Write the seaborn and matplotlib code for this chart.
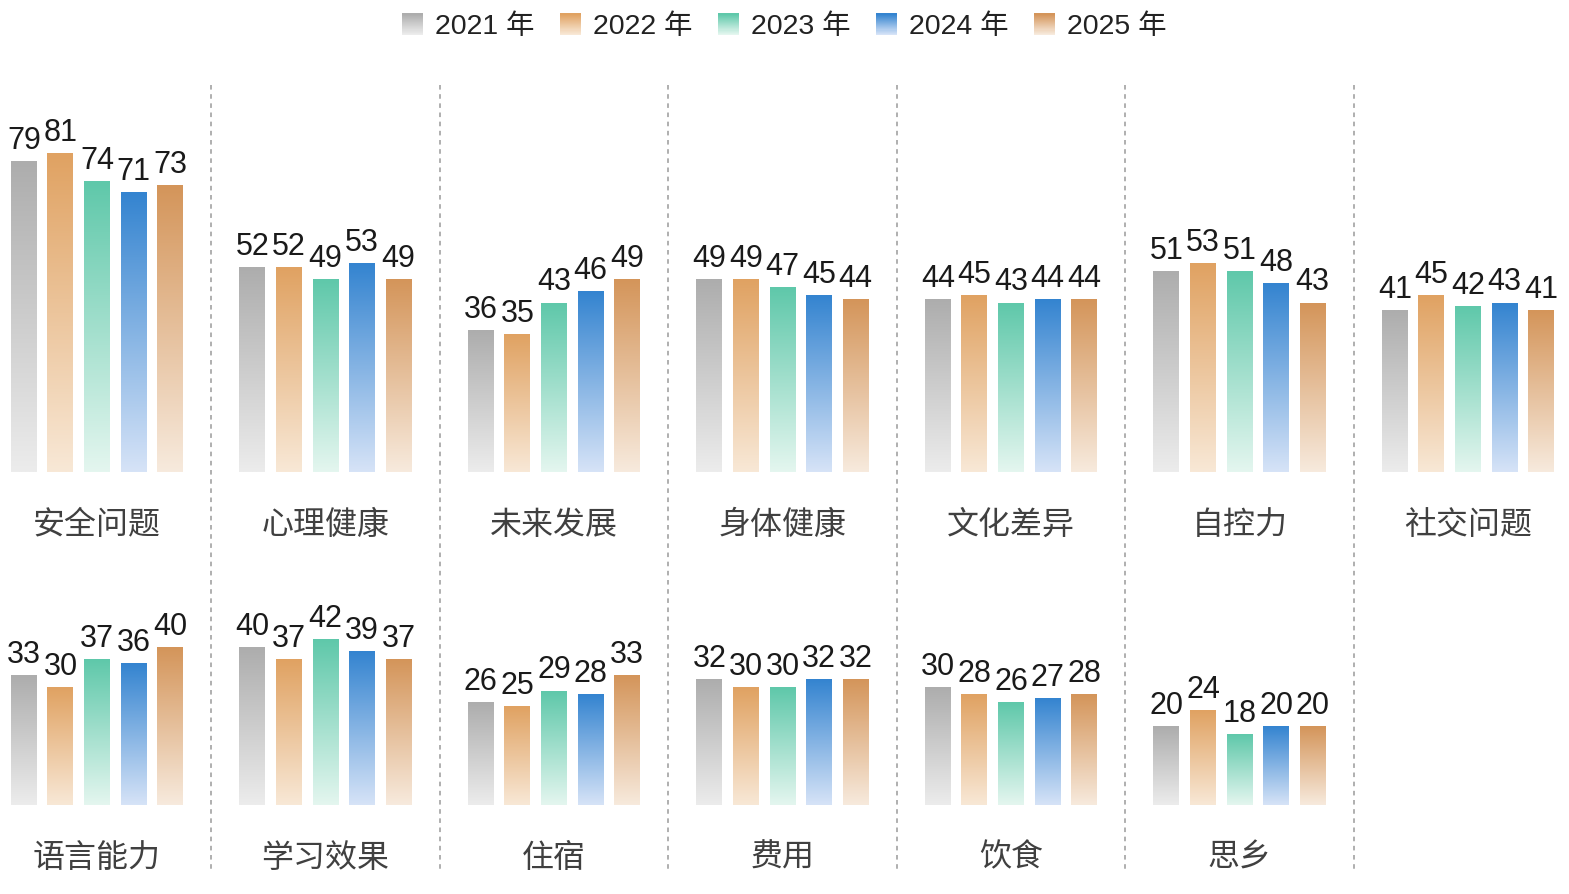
import numpy as np
import pandas as pd
import matplotlib
matplotlib.use('Agg')
import matplotlib.pyplot as plt
import matplotlib.colors as mcolors
from matplotlib.patches import Patch, Rectangle
from matplotlib.legend_handler import HandlerBase
import seaborn as sns

sns.set_style('white')
plt.rcParams['font.family'] = ['Liberation Sans', 'Noto Sans CJK SC', 'DejaVu Sans']

# 数据
years = ['2021 年', '2022 年', '2023 年', '2024 年', '2025 年']

cats_top = ['安全问题', '心理健康', '未来发展', '身体健康', '文化差异', '自控力', '社交问题']
top_2021 = [79, 52, 36, 49, 44, 51, 41]
top_2022 = [81, 52, 35, 49, 45, 53, 45]
top_2023 = [74, 49, 43, 47, 43, 51, 42]
top_2024 = [71, 53, 46, 45, 44, 48, 43]
top_2025 = [73, 49, 49, 44, 44, 43, 41]

cats_bottom = ['语言能力', '学习效果', '住宿', '费用', '饮食', '思乡']
bot_2021 = [33, 40, 26, 32, 30, 20]
bot_2022 = [30, 37, 25, 30, 28, 24]
bot_2023 = [37, 42, 29, 30, 26, 18]
bot_2024 = [36, 39, 28, 32, 27, 20]
bot_2025 = [40, 37, 33, 32, 28, 20]

# 渐变色：顶部 -> 底部
top_colors = ['#adadad', '#e0a262', '#5fc8aa', '#3484d0', '#d4955a']
bottom_colors = ['#ececec', '#f8e8d6', '#e4f6ef', '#d6e3f7', '#f7eadd']


def long_df(cats, series):
    rows = []
    for y, vals in zip(years, series):
        for c, v in zip(cats, vals):
            rows.append({'cat': c, 'year': y, 'value': v})
    return pd.DataFrame(rows)


df_top = long_df(cats_top, [top_2021, top_2022, top_2023, top_2024, top_2025])
df_bot = long_df(cats_bottom, [bot_2021, bot_2022, bot_2023, bot_2024, bot_2025])

W, H = 1569, 894
fig = plt.figure(figsize=(W / 100, H / 100), dpi=100)

slot = 228.5
x_left = -97 / slot
x_right = (W - 97) / slot
scale = 3.93  # 像素 / 单位
ax_h = 390


def grad_img(c_top, c_bot, n=128):
    a = np.array(mcolors.to_rgba(c_bot))
    b = np.array(mcolors.to_rgba(c_top))
    t = np.linspace(0, 1, n)[:, None]
    return (a * (1 - t) + b * t)[:, None, :]


def draw_row(df, cats, base_px):
    ax = fig.add_axes([0, 1 - base_px / H, 1, ax_h / H])
    ax.patch.set_alpha(0)
    sns.barplot(data=df, x='cat', y='value', hue='year', order=cats,
                hue_order=years, palette=top_colors, width=0.8, gap=0.29,
                legend=False, ax=ax)
    for j, cont in enumerate(ax.containers):
        img = grad_img(top_colors[j], bottom_colors[j])
        for bar in cont:
            x0, w, h = bar.get_x(), bar.get_width(), bar.get_height()
            ax.imshow(img, extent=[x0, x0 + w, 0, h], origin='lower',
                      aspect='auto', interpolation='bilinear', zorder=2)
            bar.set_visible(False)
            ax.annotate(f'{h:.0f}', (x0 + w / 2, h), xytext=(0, 4),
                        textcoords='offset points', ha='center', va='bottom',
                        fontsize=22, color='#1a1a1a', zorder=3)
    for i, c in enumerate(cats):
        ax.annotate(c, (i, 0), xytext=(0, -38), textcoords='offset points',
                    ha='center', va='center', fontsize=23,
                    family=['Noto Sans CJK SC'], color='#404040',
                    annotation_clip=False)
    ax.set_xlim(x_left, x_right)
    ax.set_ylim(0, ax_h / scale)
    ax.set_xticks([])
    ax.set_yticks([])
    ax.set_xlabel('')
    ax.set_ylabel('')
    sns.despine(ax=ax, left=True, bottom=True)
    return ax


# 分隔虚线
bg = fig.add_axes([0, 0, 1, 1])
bg.set_xlim(x_left, x_right)
bg.set_ylim(H, 0)
bg.vlines(np.arange(len(cats_top) - 1) + 0.5, 85, 872, colors='#9a9a9a',
          linestyles=(0, (3, 3)), linewidth=1.1)
bg.axis('off')

draw_row(df_top, cats_top, 472)
draw_row(df_bot, cats_bottom, 805)


# 图例（渐变方块）
class GradHandler(HandlerBase):
    def __init__(self, c_top, c_bot):
        super().__init__()
        self.c_top, self.c_bot = c_top, c_bot

    def create_artists(self, legend, orig_handle, xdescent, ydescent,
                       width, height, fontsize, trans):
        n = 20
        size = min(width, height)
        a = np.array(mcolors.to_rgb(self.c_bot))
        b = np.array(mcolors.to_rgb(self.c_top))
        arts = []
        for k in range(n):
            t = k / (n - 1)
            col = a * (1 - t) + b * t
            arts.append(Rectangle((-xdescent, -ydescent + k * size / n),
                                  size, size / n + 0.3, facecolor=col,
                                  edgecolor='none', lw=0, transform=trans))
        return arts


handles = [Patch(label=y) for y in years]
hmap = {h: GradHandler(top_colors[i], bottom_colors[i]) for i, h in enumerate(handles)}
fig.legend(handles=handles, handler_map=hmap, loc='center',
           bbox_to_anchor=(0.5, 1 - 27 / H), ncol=5, frameon=False,
           fontsize=20.5, handlelength=0.75, handleheight=0.75,
           handletextpad=0.4, columnspacing=0.9, labelcolor='#222222')

fig.savefig('out.png', dpi=100, facecolor='white')
